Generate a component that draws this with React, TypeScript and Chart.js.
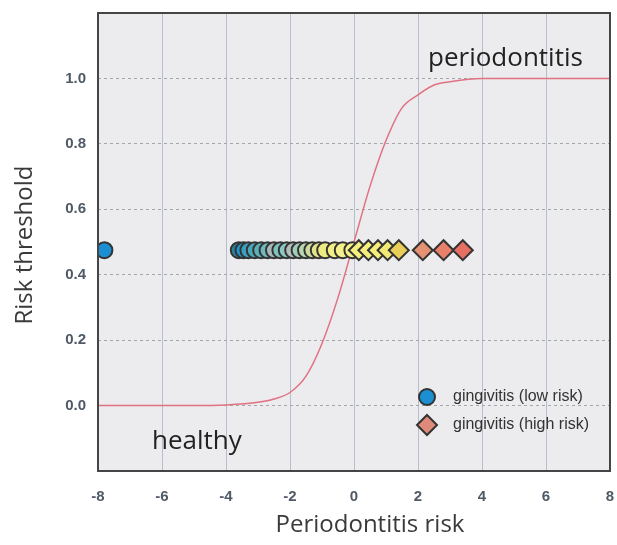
import React, { useEffect, useRef } from "react";
import { Chart, registerables } from "chart.js";

Chart.register(...registerables);

// Sigmoid risk curve
const curveX = [-8, -5, -4, -3, -2.5, -2, -1.5, -1, -0.5, 0, 0.5, 1, 1.5, 2, 2.5, 3, 4, 5, 8];
const curveY = [0, 0, 0.002, 0.01, 0.02, 0.04, 0.09, 0.19, 0.33, 0.5, 0.67, 0.81, 0.91, 0.95, 0.98, 0.99, 1.0, 1.0, 1.0];

// Gingivitis (low risk) – circles
const lowX = [-7.8, -3.6, -3.45, -3.3, -3.1, -2.9, -2.7, -2.5, -2.3, -2.1, -1.9, -1.7, -1.5, -1.3, -1.1, -0.9, -0.6, -0.35, -0.05];
const lowY = [0.475, 0.475, 0.475, 0.475, 0.475, 0.475, 0.475, 0.475, 0.475, 0.475, 0.475, 0.475, 0.475, 0.475, 0.475, 0.475, 0.475, 0.475, 0.475];
const lowColors = [
  "#1b8fd2", "#2a7f9a", "#1e96cc", "#3a9fc0", "#4aa8bb", "#5cb0b8", "#6fb8bb", "#a9b9ba", "#7cc2bd",
  "#8ac8c0", "#b3bfbb", "#a0cdb8", "#b9d6ae", "#cfdca0", "#e3e58a", "#eeec80", "#f2ee84", "#f5f08a", "#f7f28c",
];

// Gingivitis (high risk) – diamonds
const highX = [0.15, 0.45, 0.75, 1.05, 1.4, 2.15, 2.8, 3.4];
const highY = [0.475, 0.475, 0.475, 0.475, 0.475, 0.475, 0.475, 0.475];
const highColors = ["#f6f07e", "#f6ef7c", "#f5ee7a", "#f3ea76", "#e9cf5a", "#e59274", "#e8806a", "#e66e62"];

const xTicks = [-8, -6, -4, -2, 0, 2, 4, 6, 8];
const yTicks = [-0.2, 0, 0.2, 0.4, 0.6, 0.8, 1.0, 1.2];
const yTickLabels = ["0.0", "0.2", "0.4", "0.6", "0.8", "1.0"];

const legendLabels = ["gingivitis (low risk)", "gingivitis (high risk)"];
const xTitle = "Periodontitis risk";
const yTitle = "Risk threshold";
const topLabel = "periodontitis";
const bottomLabel = "healthy";

const decorPlugin = {
  id: "decor",
  beforeDraw(chart: any) {
    const { ctx, chartArea: a } = chart;
    ctx.save();
    ctx.fillStyle = "#ffffff";
    ctx.fillRect(0, 0, chart.width, chart.height);
    ctx.fillStyle = "#ecebed";
    ctx.fillRect(a.left, a.top, a.right - a.left, a.bottom - a.top);
    ctx.restore();
  },
  afterDatasetsDraw(chart: any) {
    const { ctx, chartArea: a } = chart;
    ctx.save();
    // border
    ctx.strokeStyle = "#454545";
    ctx.lineWidth = 2;
    ctx.strokeRect(a.left, a.top, a.right - a.left, a.bottom - a.top);

    // annotations
    ctx.fillStyle = "#222222";
    ctx.font = "26px 'Open Sans'";
    ctx.textBaseline = "alphabetic";
    ctx.textAlign = "left";
    ctx.fillText(topLabel, 428, 66);
    ctx.fillText(bottomLabel, 152, 449);

    // legend
    const lx = 427;
    const ly1 = 397;
    const ly2 = 425;
    ctx.lineWidth = 2;
    ctx.strokeStyle = "#333333";
    ctx.fillStyle = "#1b8fd2";
    ctx.beginPath();
    ctx.arc(lx, ly1, 8, 0, Math.PI * 2);
    ctx.fill();
    ctx.stroke();
    ctx.fillStyle = "#e08a7c";
    ctx.beginPath();
    ctx.moveTo(lx, ly2 - 10);
    ctx.lineTo(lx + 10, ly2);
    ctx.lineTo(lx, ly2 + 10);
    ctx.lineTo(lx - 10, ly2);
    ctx.closePath();
    ctx.fill();
    ctx.stroke();
    ctx.fillStyle = "#333333";
    ctx.font = "16px 'Liberation Sans'";
    ctx.textBaseline = "middle";
    ctx.fillText(legendLabels[0], 453, ly1);
    ctx.fillText(legendLabels[1], 453, ly2);

    // axis titles
    ctx.fillStyle = "#3a3a3a";
    ctx.font = "24px 'Open Sans'";
    ctx.textAlign = "center";
    ctx.textBaseline = "middle";
    ctx.fillText(xTitle, 370, 525);
    ctx.translate(25, 245);
    ctx.rotate(-Math.PI / 2);
    ctx.fillText(yTitle, 0, 0);
    ctx.restore();
  },
};

export default function App() {
  const ref = useRef<HTMLCanvasElement | null>(null);

  useEffect(() => {
    if (!ref.current) return;
    const chart = new Chart(ref.current, {
      type: "scatter",
      data: {
        datasets: [
          {
            label: legendLabels[0],
            data: lowX.map((x, i) => ({ x, y: lowY[i] })),
            pointStyle: "circle",
            pointRadius: 8,
            pointBackgroundColor: lowColors,
            pointBorderColor: "#333333",
            pointBorderWidth: 2,
            order: 1,
          },
          {
            label: legendLabels[1],
            data: highX.map((x, i) => ({ x, y: highY[i] })),
            pointStyle: "rectRot",
            pointRadius: 10,
            pointBackgroundColor: highColors,
            pointBorderColor: "#333333",
            pointBorderWidth: 2,
            order: 0,
          },
          {
            type: "line",
            label: "curve",
            data: curveX.map((x, i) => ({ x, y: curveY[i] })),
            borderColor: "#e07282",
            borderWidth: 1.5,
            pointRadius: 0,
            showLine: true,
            fill: false,
            cubicInterpolationMode: "monotone",
            order: 2,
          } as any,
        ],
      },
      options: {
        animation: false,
        responsive: true,
        maintainAspectRatio: false,
        layout: { autoPadding: false, padding: { top: 13, right: 7, left: 0, bottom: 0 } },
        plugins: { legend: { display: false }, tooltip: { enabled: false } },
        scales: {
          x: {
            type: "linear",
            min: -8,
            max: 8,
            afterFit(scale: any) {
              scale.height = 74;
              scale.paddingLeft = 0;
              scale.paddingRight = 0;
            },
            afterBuildTicks(scale: any) {
              scale.ticks = xTicks.map((v) => ({ value: v }));
            },
            border: { display: false },
            grid: {
              color: "#b3bfcc",
              lineWidth: 1,
              drawTicks: false,
            },
            ticks: {
              padding: 17,
              color: "#4f5a66",
              font: { family: "'Liberation Sans'", size: 15, weight: "bold" },
              callback: (v: any) => String(v),
            },
          },
          y: {
            type: "linear",
            min: -0.2,
            max: 1.2,
            afterFit(scale: any) {
              scale.width = 98;
              scale.paddingTop = 0;
              scale.paddingBottom = 0;
            },
            afterBuildTicks(scale: any) {
              scale.ticks = yTicks.map((v) => ({ value: v }));
            },
            border: { display: false, dash: [3, 3] },
            grid: {
              color: "#a4a6aa",
              lineWidth: 1,
              drawTicks: false,
            } as any,
            ticks: {
              padding: 12,
              color: "#4f5a66",
              font: { family: "'Liberation Sans'", size: 15, weight: "bold" },
              callback: (v: any) => {
                const idx = Math.round(v / 0.2);
                return idx >= 0 && idx < yTickLabels.length ? yTickLabels[idx] : "";
              },
            },
          },
        },
      } as any,
      plugins: [decorPlugin],
    });
    return () => chart.destroy();
  }, []);

  return (
    <div style={{ position: "fixed", left: 0, top: 0, width: 617, height: 545, background: "#fff" }}>
      <canvas ref={ref} />
    </div>
  );
}
